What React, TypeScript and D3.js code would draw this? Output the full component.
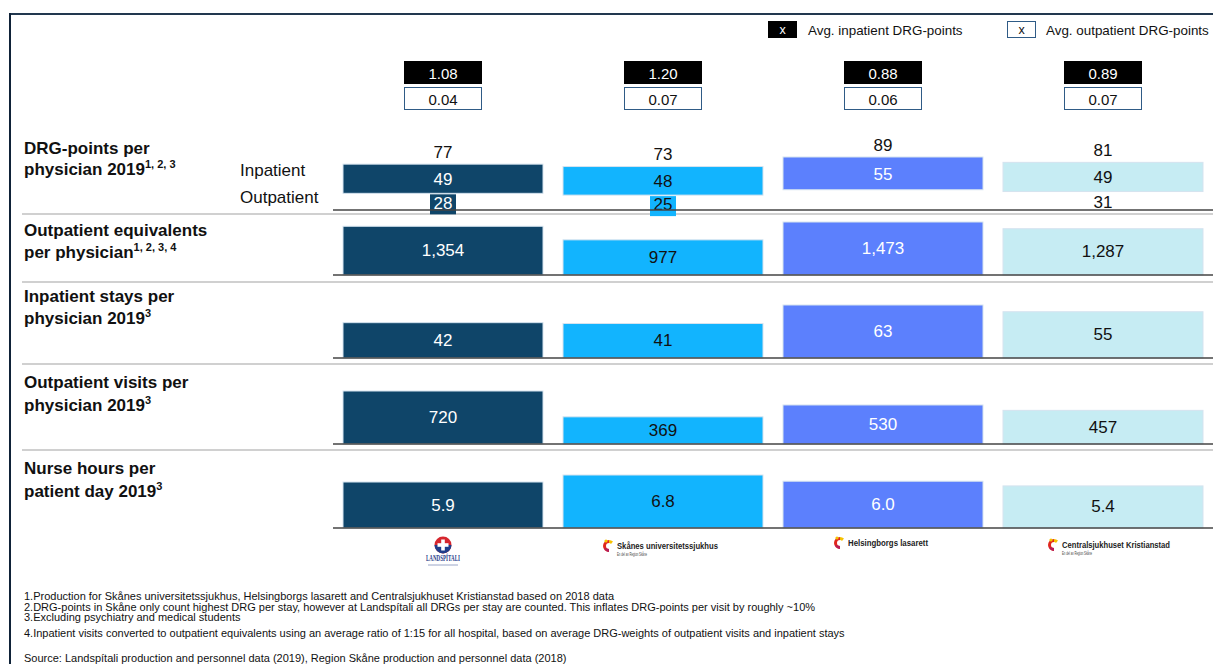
import React from "react";
import * as d3 from "d3";

const hospitals = ["Landspítali", "Skånes universitetssjukhus", "Helsingborgs lasarett", "Centralsjukhuset Kristianstad"];
const avgInpatientDRG = [1.08, 1.2, 0.88, 0.89];
const avgOutpatientDRG = [0.04, 0.07, 0.06, 0.07];
const drgTotal = [77, 73, 89, 81];
const drgInpatient = [49, 48, 55, 49];
const drgOutpatient = [28, 25, 34, 31];
const drgOutpatientShown = [true, true, false, true];
const outpatientEquivalents = [1354, 977, 1473, 1287];
const inpatientStays = [42, 41, 63, 55];
const outpatientVisits = [720, 369, 530, 457];
const nurseHours = [5.9, 6.8, 6.0, 5.4];

const colors = ["#0f4569", "#12b4fe", "#5c80fd", "#c6ecf3"];
const textColors = ["#ffffff", "#111111", "#ffffff", "#111111"];
const outLabelBg = ["#0f4569", "#12b4fe", "none", "none"];

const footnotes = [
  "1.Production for Skånes universitetssjukhus, Helsingborgs lasarett and Centralsjukhuset Kristianstad based on 2018 data",
  "2.DRG-points in Skåne only count highest DRG per stay, however at Landspítali all DRGs per stay are counted. This inflates DRG-points per visit by roughly ~10%",
  "3.Excluding psychiatry and medical students",
  "4.Inpatient visits converted to outpatient equivalents using an average ratio of 1:15 for all hospital, based on average DRG-weights of outpatient visits and inpatient stays",
];
const source = "Source: Landspítali production and personnel data (2019), Region Skåne production and personnel data (2018)";

const W = 1213;
const H = 664;
const FONT = "Arial, 'Liberation Sans', Helvetica, sans-serif";
const BAR_MAX_H = 53;

type Row = {
  lines: string[];
  sup: string;
  titleY: number[];
  baseline: number;
  values: number[];
  format: (v: number) => string;
};

const simpleRows: Row[] = [
  { lines: ["Outpatient equivalents", "per physician"], sup: "1, 2, 3, 4", titleY: [230, 252], baseline: 275, values: outpatientEquivalents, format: d3.format(",") },
  { lines: ["Inpatient stays per", "physician 2019"], sup: "3", titleY: [296, 318], baseline: 358, values: inpatientStays, format: d3.format("d") },
  { lines: ["Outpatient visits per", "physician 2019"], sup: "3", titleY: [382, 405], baseline: 444, values: outpatientVisits, format: d3.format("d") },
  { lines: ["Nurse hours per", "patient day 2019"], sup: "3", titleY: [468, 491], baseline: 528, values: nurseHours, format: d3.format(".1f") },
];

const separators = [214, 282, 364, 450];
const drgBaseline = 210;

function Title({ lines, sup, ys }: { lines: string[]; sup: string; ys: number[] }) {
  return (
    <g fontFamily={FONT} fontWeight="bold" fontSize={17} fill="#111">
      <text x={24} y={ys[0]} dominantBaseline="central">{lines[0]}</text>
      <text x={24} y={ys[1]} dominantBaseline="central">
        {lines[1]}
        <tspan fontSize={11} dy={-5}>{sup}</tspan>
      </text>
    </g>
  );
}

function Flame({ x, y, s = 1 }: { x: number; y: number; s?: number }) {
  return (
    <g transform={`translate(${x},${y}) scale(${s})`}>
      <path d="M0,-6 A6,6 0 0,0 0,6 L0,3 A3,3 0 0,1 0,-3 Z" fill="#e1261c" />
      <path d="M0,-6 A6,6 0 0,1 4,-4.5 L2,-2 A3,3 0 0,0 0,-3 Z" fill="#f6c200" />
      <circle cx={-3} cy={-5} r={1.6} fill="#f6c200" />
      <path d="M-5,2 A6,6 0 0,0 0,6 L0,3 Z" fill="#b51d5a" />
    </g>
  );
}

export default function App() {
  const x = d3
    .scaleBand<string>()
    .domain(hospitals)
    .range([333, 1213])
    .paddingInner(20 / 220)
    .paddingOuter(10 / 220);
  const bw = x.bandwidth();
  const cx = (i: number) => (x(hospitals[i]) as number) + bw / 2;

  const drgMax = d3.max(drgTotal) as number;
  const yDrg = d3.scaleLinear().domain([0, drgMax]).range([drgBaseline, drgBaseline - BAR_MAX_H]);

  return (
    <svg width={W} height={H} style={{ position: "absolute", left: 0, top: 0, background: "#fff" }}>
      {/* frame */}
      <line x1={9} x2={W} y1={14} y2={14} stroke="#22384f" strokeWidth={2} />
      <line x1={10} x2={10} y1={13} y2={H} stroke="#0f2238" strokeWidth={2} />

      {/* legend */}
      <g fontFamily={FONT} fontSize={13.4}>
        <rect x={768} y={21} width={29} height={17} fill="#000" />
        <text x={782.5} y={30} fill="#fff" textAnchor="middle" dominantBaseline="central" fontSize={12.5}>x</text>
        <text x={808} y={30} fill="#111" dominantBaseline="central">Avg. inpatient DRG-points</text>
        <rect x={1007.5} y={21.5} width={28} height={16} fill="#fff" stroke="#2f5b86" strokeWidth={1} />
        <text x={1021.5} y={30} fill="#111" textAnchor="middle" dominantBaseline="central" fontSize={12.5}>x</text>
        <text x={1046} y={30} fill="#111" dominantBaseline="central">Avg. outpatient DRG-points</text>
      </g>

      {/* header boxes */}
      <g fontFamily={FONT} fontSize={15}>
        {hospitals.map((h, i) => (
          <g key={h}>
            <rect x={cx(i) - 39} y={61} width={78} height={23} fill="#000" />
            <text x={cx(i)} y={73} fill="#fff" textAnchor="middle" dominantBaseline="central">
              {d3.format(".2f")(avgInpatientDRG[i])}
            </text>
            <rect x={cx(i) - 38.5} y={87.5} width={77} height={22} fill="#fff" stroke="#2f5b86" strokeWidth={1} />
            <text x={cx(i)} y={99} fill="#111" textAnchor="middle" dominantBaseline="central">
              {d3.format(".2f")(avgOutpatientDRG[i])}
            </text>
          </g>
        ))}
      </g>

      {/* separators */}
      {separators.map((s) => (
        <line key={s} x1={22} x2={W} y1={s} y2={s} stroke="#c0c0c0" strokeWidth={1.5} />
      ))}

      {/* Row 1 DRG */}
      <Title lines={["DRG-points per", "physician 2019"]} sup="1, 2, 3" ys={[148, 169]} />
      <g fontFamily={FONT} fontSize={17} fill="#111">
        <text x={240} y={170} dominantBaseline="central">Inpatient</text>
        <text x={240} y={197} dominantBaseline="central">Outpatient</text>
      </g>
      <g fontFamily={FONT} fontSize={17}>
        {hospitals.map((h, i) => {
          const y0 = yDrg(drgOutpatient[i]);
          const y1 = yDrg(drgOutpatient[i] + drgInpatient[i]);
          const outMid = (drgBaseline + y0) / 2;
          return (
            <g key={h}>
              <rect x={x(h)} y={y1} width={bw} height={y0 - y1} fill={colors[i]} stroke="#d5e3ef" strokeWidth={1} />
              <text x={cx(i)} y={(y0 + y1) / 2 + 1} fill={textColors[i]} textAnchor="middle" dominantBaseline="central">
                {drgInpatient[i]}
              </text>
              <text x={cx(i)} y={y1 - 12} fill="#111" textAnchor="middle" dominantBaseline="central">
                {drgTotal[i]}
              </text>
              {drgOutpatientShown[i] && (
                <g>
                  {outLabelBg[i] !== "none" && (
                    <rect x={cx(i) - 13} y={y0 + 1} width={26} height={20} fill={outLabelBg[i]} />
                  )}
                  <text x={cx(i)} y={outMid + 2} fill={textColors[i]} textAnchor="middle" dominantBaseline="central">
                    {drgOutpatient[i]}
                  </text>
                </g>
              )}
            </g>
          );
        })}
      </g>
      <line x1={333} x2={W} y1={drgBaseline} y2={drgBaseline} stroke="#444" strokeWidth={1.5} />

      {/* Simple rows */}
      {simpleRows.map((r, ri) => {
        const yS = d3
          .scaleLinear()
          .domain([0, d3.max(r.values) as number])
          .range([r.baseline, r.baseline - BAR_MAX_H]);
        return (
          <g key={ri}>
            <Title lines={r.lines} sup={r.sup} ys={r.titleY} />
            <g fontFamily={FONT} fontSize={17}>
              {hospitals.map((h, i) => {
                const top = yS(r.values[i]);
                return (
                  <g key={h}>
                    <rect x={x(h)} y={top} width={bw} height={r.baseline - top} fill={colors[i]} stroke="#d5e3ef" strokeWidth={1} />
                    <text x={cx(i)} y={(top + r.baseline) / 2} fill={textColors[i]} textAnchor="middle" dominantBaseline="central">
                      {r.format(r.values[i])}
                    </text>
                  </g>
                );
              })}
            </g>
            <line x1={333} x2={W} y1={r.baseline} y2={r.baseline} stroke="#444" strokeWidth={1.5} />
          </g>
        );
      })}

      {/* logos */}
      <g fontFamily={FONT}>
        <g transform={`translate(${cx(0)},545)`}>
          <circle r={8.5} fill="#d6262e" />
          <path d="M-8.5,0 A8.5,8.5 0 0,0 8.5,0 Z" fill="#1f3d8a" />
          <rect x={-1.8} y={-5.5} width={3.6} height={11} fill="#fff" />
          <rect x={-5.5} y={-1.8} width={11} height={3.6} fill="#fff" />
          <text y={16} textAnchor="middle" fontSize={7.5} fontWeight="bold" fill="#1f3d8a" textLength={34} lengthAdjust="spacingAndGlyphs" fontFamily="'Liberation Serif', serif">LANDSPÍTALI</text>
          <line x1={-15} x2={15} y1={20} y2={20} stroke="#9aa6c8" strokeWidth={1} />
        </g>
        <Flame x={609} y={546} s={1} />
        <text x={617} y={549} fontSize={9} fontWeight="bold" fill="#222" textLength={101} lengthAdjust="spacingAndGlyphs">Skånes universitetssjukhus</text>
        <text x={617} y={556} fontSize={5} fill="#444" textLength={30} lengthAdjust="spacingAndGlyphs">En del av Region Skåne</text>
        <Flame x={840} y={543} s={1} />
        <text x={848} y={546} fontSize={9} fontWeight="bold" fill="#222" textLength={80} lengthAdjust="spacingAndGlyphs">Helsingborgs lasarett</text>
        <Flame x={1054} y={545} s={1} />
        <text x={1062} y={547.5} fontSize={9} fontWeight="bold" fill="#222" textLength={108} lengthAdjust="spacingAndGlyphs">Centralsjukhuset Kristianstad</text>
        <text x={1062} y={554.5} fontSize={5} fill="#444" textLength={30} lengthAdjust="spacingAndGlyphs">En del av Region Skåne</text>
      </g>

      {/* footnotes */}
      <g fontFamily={FONT} fontSize={11} fill="#111">
        {footnotes.map((f, i) => (
          <text key={i} x={24} y={[596, 606.5, 617, 633][i]} dominantBaseline="central">{f}</text>
        ))}
        <text x={24} y={658} dominantBaseline="central">{source}</text>
      </g>
    </svg>
  );
}
